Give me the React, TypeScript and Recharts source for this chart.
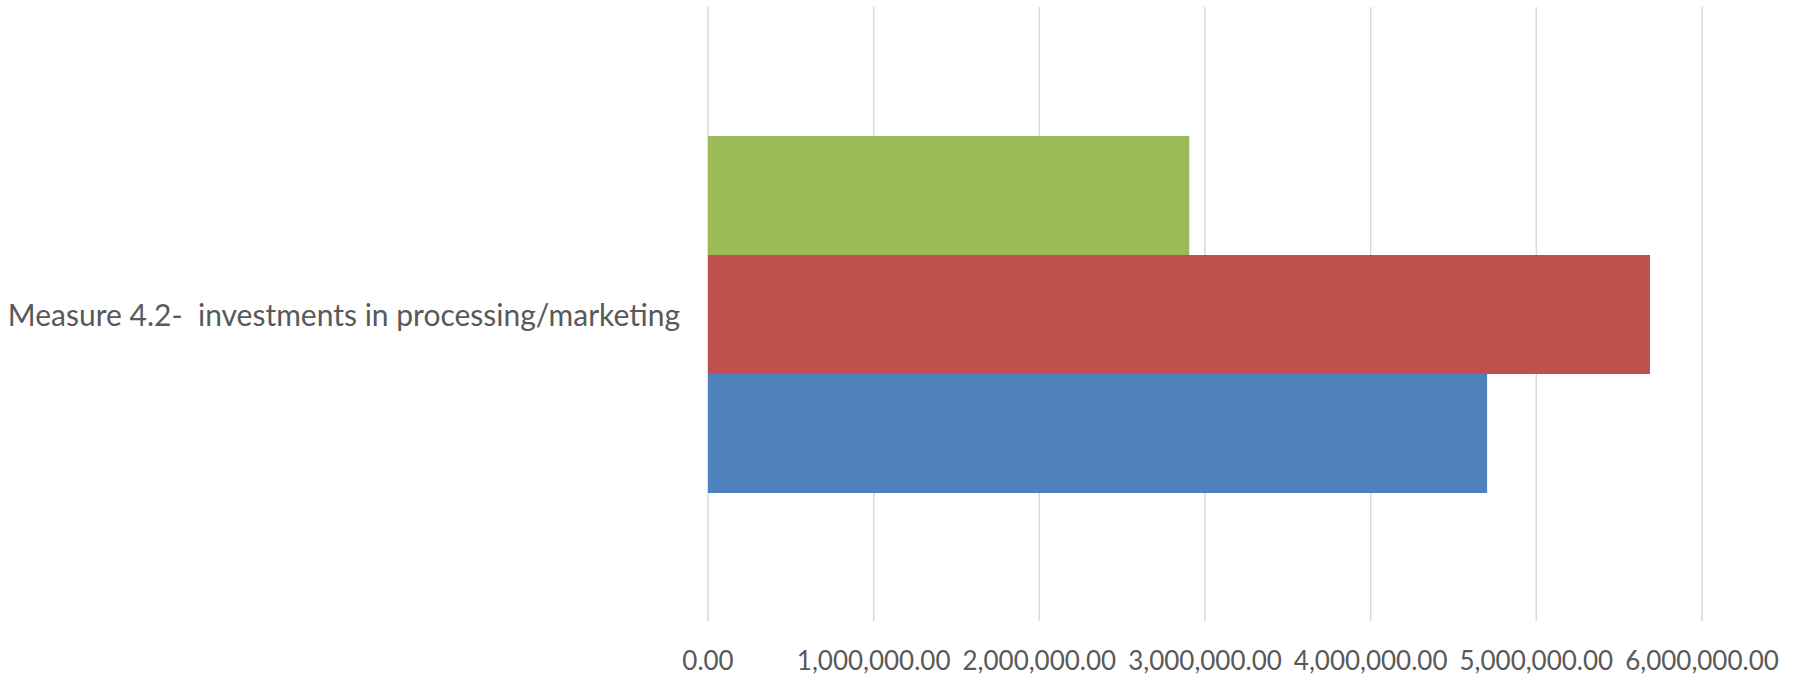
import { BarChart, Bar, XAxis, YAxis, CartesianGrid } from 'recharts';

const categories = ['Measure 4.2-\u00a0 investments in processing/marketing'];
const series1 = [4703000];
const series2 = [5686000];
const series3 = [2905000];
const xTicks = [0, 1000000, 2000000, 3000000, 4000000, 5000000, 6000000];

const data = categories.map((name, i) => ({
  name,
  s1: series1[i],
  s2: series2[i],
  s3: series3[i],
}));

const fmt = new Intl.NumberFormat('en-US', { minimumFractionDigits: 2, maximumFractionDigits: 2 });

const FONT = 'Lato, "Noto Sans", sans-serif';
const TEXT = '#595959';

const CategoryTick = (props: any) => {
  const { x, y, payload } = props;
  return (
    <text x={x} y={y} textAnchor="end" dominantBaseline="central" fill={TEXT} fontSize={30} fontFamily={FONT}>
      {payload.value}
    </text>
  );
};

export default function App() {
  return (
    <div style={{ width: 1807, height: 681, background: '#fff' }}>
      <style>{'body{margin:0}'}</style>
      <BarChart
        width={1807}
        height={681}
        data={data}
        layout="vertical"
        margin={{ top: 7, right: 105, bottom: 0, left: 0 }}
        barCategoryGap={129}
        barGap={0}
      >
        <CartesianGrid horizontal={false} stroke="#d9d9d9" strokeWidth={1.5} />
        <XAxis
          type="number"
          domain={[0, 6000000]}
          ticks={xTicks}
          interval={0}
          tickFormatter={(v: number) => fmt.format(v)}
          axisLine={false}
          tickLine={false}
          tickSize={0}
          tickMargin={31}
          height={60}
          tick={{ fill: TEXT, fontSize: 26, fontFamily: FONT }}
        />
        <YAxis
          type="category"
          dataKey="name"
          width={708}
          axisLine={false}
          tickLine={false}
          tickSize={0}
          tickMargin={28}
          tick={<CategoryTick />}
        />
        <Bar dataKey="s3" name="Series 3" fill="#9BBB59" isAnimationActive={false} />
        <Bar dataKey="s2" name="Series 2" fill="#C0504D" isAnimationActive={false} />
        <Bar dataKey="s1" name="Series 1" fill="#4F81BD" isAnimationActive={false} />
      </BarChart>
    </div>
  );
}
